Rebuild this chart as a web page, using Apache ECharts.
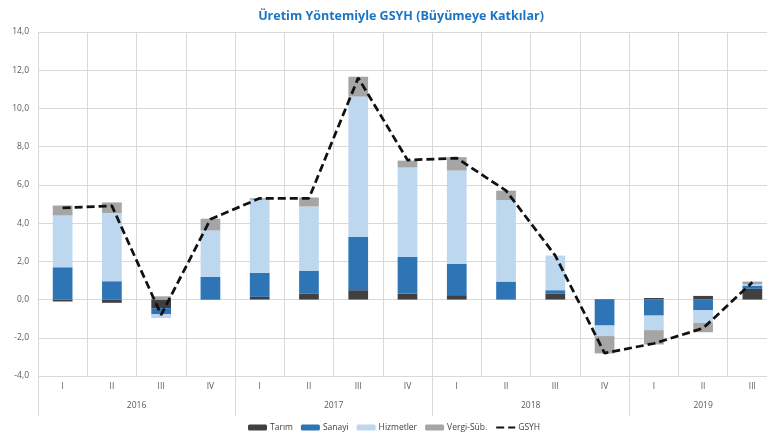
<!DOCTYPE html>
<html>
<head>
<meta charset="utf-8">
<script src="https://cdn.jsdelivr.net/npm/echarts@6/dist/echarts.min.js"></script>
<style>
  html, body { margin: 0; padding: 0; background: #fff; }
  #main { width: 767px; height: 434px; }
</style>
</head>
<body>
<div id="main"></div>
<script>
// ceyrekler ve yillar
var quarters = ['I', 'II', 'III', 'IV', 'I', 'II', 'III', 'IV', 'I', 'II', 'III', 'IV', 'I', 'II', 'III'];
var years = ['2016', '2017', '2018', '2019'];
var yearMid = [2, 6, 10, 13.5];      // yil etiketinin ceyrek ekseni uzerindeki yeri
var yearEdge = [0, 4, 8, 12, 15];    // yil ayiraclari

// buyumeye katkilar (puan)
var tarim     = [-0.10, -0.17, -0.45, 0.03, 0.14, 0.30, 0.49, 0.31, 0.23, 0.02, 0.30, 0.03, 0.08, 0.19, 0.56];
var sanayi    = [1.69, 0.96, -0.32, 1.15, 1.25, 1.21, 2.78, 1.92, 1.63, 0.92, 0.19, -1.36, -0.84, -0.56, 0.17];
var hizmetler = [2.71, 3.56, -0.20, 2.44, 3.83, 3.36, 7.35, 4.68, 4.89, 4.27, 1.81, -0.55, -0.76, -0.66, 0.07];
var vergi     = [0.52, 0.56, 0.17, 0.61, 0.08, 0.47, 1.04, 0.36, 0.70, 0.49, 0.00, -0.91, -0.75, -0.49, 0.14];
var gsyh      = [4.8, 4.9, -0.8, 4.2, 5.3, 5.3, 11.6, 7.3, 7.4, 5.7, 2.3, -2.8, -2.3, -1.5, 0.9];

var FONT = 'Open Sans';
var gridCol = '#d9d9d9';

var chart = echarts.init(document.getElementById('main'), null, { renderer: 'canvas' });

function bar(name, data, color) {
    return {
        name: name,
        type: 'bar',
        stack: 'k',
        barWidth: '40%',
        data: data,
        itemStyle: { color: color },
        emphasis: { disabled: true }
    };
}

var option = {
    animation: false,
    textStyle: { fontFamily: FONT },
    title: {
        text: 'Üretim Yöntemiyle GSYH (Büyümeye Katkılar)',
        left: 396,
        textAlign: 'center',
        top: 5,
        textStyle: { fontFamily: FONT, fontSize: 12.5, fontWeight: 'bold', color: '#1a75c4' }
    },
    legend: {
        left: 243,
        top: 418,
        itemWidth: 19,
        itemHeight: 6,
        itemGap: 8,
        textStyle: { fontFamily: FONT, fontSize: 8.5, color: '#404040', padding: [0, 0, 0, -2] },
        data: ['Tarım', 'Sanayi', 'Hizmetler', 'Vergi-Süb.', 'GSYH']
    },
    // cizim alani sagdan biraz tasiyor (son ceyrek kesik)
    grid: { left: 38, width: 739, top: 32, bottom: 58, outerBoundsMode: 'none', containLabel: false },
    xAxis: [{
        type: 'category',
        data: quarters,
        position: 'bottom',
        axisLine: { show: true, lineStyle: { color: gridCol } },
        axisTick: { show: true, interval: 0, length: 20, lineStyle: { color: gridCol } },
        axisLabel: { interval: 0, margin: 6, fontSize: 8.5, color: '#595959', fontFamily: FONT },
        splitLine: { show: true, interval: 0, lineStyle: { color: gridCol } }
    }, {
        type: 'value',
        min: 0,
        max: 15,
        position: 'bottom',
        axisLine: { show: false },
        axisTick: { show: true, customValues: yearEdge, length: 40, lineStyle: { color: gridCol } },
        axisLabel: {
            customValues: yearMid,
            margin: 25,
            fontSize: 8.5,
            color: '#595959',
            fontFamily: FONT,
            formatter: function (v) {
                var i = yearMid.indexOf(v);
                return i >= 0 ? years[i] : '';
            }
        },
        splitLine: { show: false }
    }],
    yAxis: {
        type: 'value',
        min: -4,
        max: 14,
        interval: 2,
        axisLine: { show: false },
        axisTick: { show: false },
        axisLabel: {
            margin: 9,
            fontSize: 8.5,
            color: '#595959',
            fontFamily: FONT,
            formatter: function (v) { return v.toFixed(1).replace('.', ','); }
        },
        splitLine: { lineStyle: { color: gridCol } }
    },
    series: [
        bar('Tarım', tarim, '#404040'),
        bar('Sanayi', sanayi, '#2e75b6'),
        bar('Hizmetler', hizmetler, '#bdd7ee'),
        bar('Vergi-Süb.', vergi, '#a5a5a5'),
        {
            name: 'GSYH',
            type: 'line',
            data: gsyh,
            symbol: 'circle',
            showSymbol: false,
            z: 5,
            lineStyle: { color: '#111', width: 2.75, type: [8, 4] },
            // seffaf sembol: lejantta sadece kesikli cizgi kalsin
            itemStyle: { color: 'rgba(0,0,0,0)' },
            emphasis: { disabled: true }
        }
    ]
};

chart.setOption(option);
</script>
</body>
</html>
